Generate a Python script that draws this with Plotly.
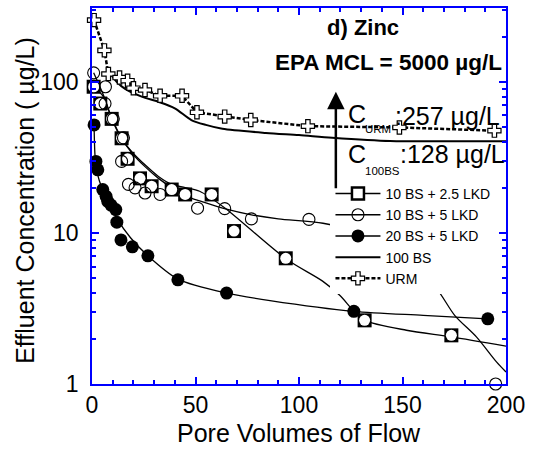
import plotly.graph_objects as go

# ---- data: effluent zinc concentration (ug/L) vs pore volumes of flow ----
# 10 BS + 2.5 LKD
pv_25lkd = [0.8, 4, 9.5, 14.3, 17.2, 23.2, 28.8, 38.5, 45, 57.8, 68.6, 93.6, 131.7, 173.6]
c_25lkd = [93, 72, 57, 42.4, 31, 23, 20.4, 19.4, 18, 18, 10.3, 6.8, 2.64, 2.1]
fit_pv_25lkd = [0.8, 5.5, 9.5, 14.3, 19.2, 25.6, 32.1, 38.5, 45, 52, 64, 94, 111.4, 119.8, 126.2, 131.7, 151.9, 173.6, 200]
fit_c_25lkd = [93, 80, 57, 42, 34.6, 28.3, 23.7, 21, 20, 18.9, 14.7, 6.7, 4.8, 3.85, 3.07, 2.64, 2.27, 2.05, 1.78]

# 10 BS + 5 LKD
pv_10bs5 = [0.8, 6.5, 6.3, 10.3, 15.2, 14.3, 17.6, 20.8, 25.6, 32.9, 51, 64.1, 77, 104.8, 195]
c_10bs5 = [115, 93, 72, 57, 42.7, 29.8, 21, 19.9, 18.4, 18, 14.6, 14.5, 12.4, 12.3, 1.0]
fit_pv_10bs5 = [0.8, 5.5, 9.5, 14.3, 19.2, 25.6, 32.1, 38.5, 48, 52, 64, 77, 90, 111.6, 130, 150, 166.4, 175.2, 185.7, 195.4, 200]
fit_c_10bs5 = [115, 82, 58, 42.5, 34, 27.5, 23, 20, 17, 16.3, 14.5, 13.2, 12.4, 11.6, 10.0, 7.2, 4.3, 2.85, 2.05, 1.4, 1.2]

# 20 BS + 5 LKD
pv_20bs5 = [1, 1.9, 2.8, 5.2, 6.8, 7.6, 9.2, 11.5, 12, 14, 19.5, 27, 41.5, 65, 126.5, 191.2]
c_20bs5 = [52, 29.8, 26.2, 19.4, 17.5, 16.2, 15.3, 14.3, 11.8, 9.0, 8.1, 7.06, 4.9, 4.0, 3.03, 2.7]
fit_pv_20bs5 = [1, 1.5, 2.5, 5, 8, 12, 18.6, 27, 41.5, 65, 86, 126.5, 160, 191.2]
fit_c_20bs5 = [52, 32, 25, 19.5, 16, 12.5, 9.3, 7.06, 4.95, 4.0, 3.57, 3.03, 2.85, 2.7]

# 100 BS (curve only)
pv_100bs = [7, 10, 12, 16, 24, 32, 40, 48, 55, 63, 84, 100, 116, 144, 170, 200]
c_100bs = [125, 108, 100, 90, 80, 74, 67, 56, 52, 49, 46, 44.5, 42.8, 40.7, 40.5, 40.5]

# URM
pv_urm = [1, 6, 7.9, 13.3, 17.2, 20, 25.6, 32.9, 43.5, 50.7, 64.1, 76.7, 104.3, 148.5, 194.4]
c_urm = [257, 162, 113, 107, 102, 91, 88.5, 81, 81, 63, 59, 56, 51, 50, 47.6]

x_ticks = [0, 50, 100, 150, 200]
y_ticks = [1, 10, 100]
y_ticktext = ["1", "10", "100"]

FONT = "Arial, Liberation Sans, sans-serif"
BLUE = "#0000ff"

fig = go.Figure()

# fitted curves
fit_line = dict(color="black", width=1.3, shape="spline", smoothing=0.8)
fig.add_trace(go.Scatter(x=fit_pv_25lkd, y=fit_c_25lkd, mode="lines", line=fit_line, showlegend=False, hoverinfo="skip"))
fig.add_trace(go.Scatter(x=fit_pv_10bs5, y=fit_c_10bs5, mode="lines", line=fit_line, showlegend=False, hoverinfo="skip"))
fig.add_trace(go.Scatter(x=fit_pv_20bs5, y=fit_c_20bs5, mode="lines", line=fit_line, showlegend=False, hoverinfo="skip"))
fig.add_trace(go.Scatter(x=pv_100bs, y=c_100bs, mode="lines",
                         line=dict(color="black", width=2, shape="spline", smoothing=0.8),
                         showlegend=False, hoverinfo="skip"))

# measured points
urm_marker = dict(symbol="cross", size=11, color="white", line=dict(color="black", width=1.2))
urm_line = dict(color="black", width=2.5, dash="4px,2px")
fig.add_trace(go.Scatter(x=pv_urm, y=c_urm, mode="lines+markers", cliponaxis=False,
                         line=urm_line, marker=urm_marker, showlegend=False))
fig.add_trace(go.Scatter(x=pv_25lkd, y=c_25lkd, mode="markers", cliponaxis=False,
                         marker=dict(symbol="square", size=14, color="black", line=dict(width=0)), showlegend=False))
fig.add_trace(go.Scatter(x=pv_25lkd, y=c_25lkd, mode="markers", cliponaxis=False,
                         marker=dict(symbol="circle", size=11, color="white", line=dict(width=0)), showlegend=False))
fig.add_trace(go.Scatter(x=pv_10bs5, y=c_10bs5, mode="markers", cliponaxis=False,
                         marker=dict(symbol="circle-open", size=12, color="black", line=dict(width=1.1)), showlegend=False))
fig.add_trace(go.Scatter(x=pv_20bs5, y=c_20bs5, mode="markers", cliponaxis=False,
                         marker=dict(symbol="circle", size=13, color="black"), showlegend=False))

# legend samples
leg_line = dict(color="black", width=1.5)
fig.add_trace(go.Scatter(x=[None], y=[None], mode="lines+markers", name="10 BS + 2.5 LKD", line=leg_line,
                         marker=dict(symbol="square", size=12, color="white", line=dict(color="black", width=2.5))))
fig.add_trace(go.Scatter(x=[None], y=[None], mode="lines+markers", name="10 BS + 5 LKD", line=leg_line,
                         marker=dict(symbol="circle-open", size=12, color="black", line=dict(width=1.1))))
fig.add_trace(go.Scatter(x=[None], y=[None], mode="lines+markers", name="20 BS + 5 LKD", line=leg_line,
                         marker=dict(symbol="circle", size=13, color="black")))
fig.add_trace(go.Scatter(x=[None], y=[None], mode="lines", name="100 BS",
                         line=dict(color="black", width=2)))
fig.add_trace(go.Scatter(x=[None], y=[None], mode="lines+markers", name="URM",
                         line=urm_line, marker=urm_marker))

axis_common = dict(showline=True, linecolor=BLUE, linewidth=1.5, mirror="allticks",
                   ticks="inside", tickcolor=BLUE, ticklen=7, tickwidth=1.5,
                   showgrid=False, zeroline=False,
                   tickfont=dict(family=FONT, size=23, color="black"))

fig.update_xaxes(range=[0, 200], tickvals=x_ticks,
                 minor=dict(dtick=10, ticks="inside", ticklen=4, tickcolor=BLUE, tickwidth=1.5),
                 **axis_common)
fig.update_yaxes(type="log", range=[0, 2.49], tickvals=y_ticks, ticktext=y_ticktext,
                 minor=dict(dtick="D1", ticks="inside", ticklen=4, tickcolor=BLUE, tickwidth=1.5),
                 ticklabelstandoff=7,
                 **axis_common)

txt = dict(family=FONT, color="black")
annotations = [
    dict(text="Pore Volumes of Flow", x=0.499, y=-0.1295, font=dict(size=25, **txt)),
    dict(text="Effluent Concentration ( \u00b5g/L)", x=-0.1626, y=0.489, textangle=-90, font=dict(size=25, **txt)),
    dict(text="<b>d) Zinc</b>", x=0.655, y=0.949, font=dict(size=22, **txt)),
    dict(text="<b>EPA MCL = 5000 \u00b5g/L</b>", x=0.717, y=0.856, font=dict(size=22.5, **txt)),
    dict(text="C", x=0.613, y=0.719, xanchor="left", font=dict(size=25, **txt)),
    dict(text="URM", x=0.655, y=0.677, xanchor="left", font=dict(size=11.5, **txt)),
    dict(text=":257 \u00b5g/L", x=0.728, y=0.714, xanchor="left", font=dict(size=25, **txt)),
    dict(text="C", x=0.613, y=0.613, xanchor="left", font=dict(size=25, **txt)),
    dict(text="100BS", x=0.655, y=0.566, xanchor="left", font=dict(size=11.5, **txt)),
    dict(text=":128 \u00b5g/L", x=0.739, y=0.611, xanchor="left", font=dict(size=25, **txt)),
]
for a in annotations:
    a.setdefault("xanchor", "center")
    fig.add_annotation(xref="paper", yref="paper", showarrow=False, yanchor="middle", **a)

# upward arrow between the two reference levels
fig.add_annotation(xref="paper", yref="paper", x=0.589, y=0.777, ax=0, ay=98,
                   showarrow=True, arrowhead=2, arrowsize=1.4, arrowwidth=2.5,
                   arrowcolor="black", text="")

fig.update_layout(
    width=538, height=452,
    margin=dict(l=92, r=32, t=6, b=68),
    paper_bgcolor="white", plot_bgcolor="white",
    font=dict(family=FONT, color="black"),
    legend=dict(x=0.576, y=0.548, xanchor="left", yanchor="top",
                bgcolor="white", borderwidth=0, itemwidth=45,
                tracegroupgap=0, font=dict(family=FONT, size=14, color="black")),
)

fig.write_html("out.html")
